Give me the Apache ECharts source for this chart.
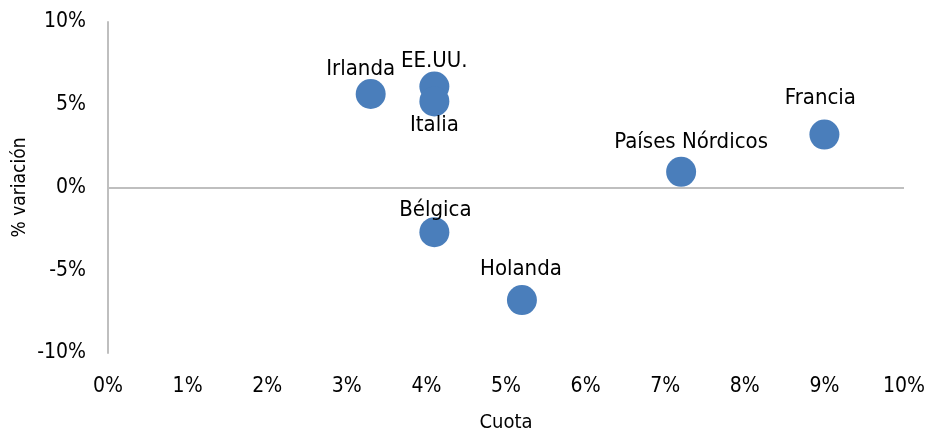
<!DOCTYPE html>
<html>
<head>
    <meta charset="utf8">
    <script src="https://cdn.jsdelivr.net/npm/echarts@6/dist/echarts.min.js"></script>
    <style>
        body { margin: 0; }
        #main { width: 925px; height: 432px; }
    </style>
</head>
<body>
    <div id="main"></div>
    <script type="text/javascript">
        // data (percent)
        var paises = ['Irlanda', 'EE.UU.', 'Italia', 'Francia', 'Países Nórdicos', 'Bélgica', 'Holanda'];
        var cuota = [3.3, 4.1, 4.1, 9.0, 7.2, 4.1, 5.2];
        var variacion = [5.65, 6.1, 5.2, 3.2, 0.95, -2.7, -6.8];

        // label placement tweaks (like hand-moved labels in the original)
        var etiquetas = {
            'Irlanda': { position: 'top', offset: [-10, 1] },
            'EE.UU.': { position: 'top', offset: [0, 1] },
            'Italia': { position: 'bottom', offset: [0, -2] },
            'Francia': { position: 'top', offset: [-4, -10] },
            'Países Nórdicos': { position: 'top', offset: [10, -3] },
            'Bélgica': { position: 'top', offset: [1, 4] },
            'Holanda': { position: 'top', offset: [-1, -5] }
        };

        var fuente = '"Liberation Sans Narrow", "DejaVu Sans Condensed", sans-serif';

        var puntos = [];
        for (var i = 0; i < paises.length; i++) {
            puntos.push({
                name: paises[i],
                value: [cuota[i], variacion[i]],
                label: etiquetas[paises[i]]
            });
        }

        var myChart = echarts.init(document.getElementById('main'));
        var option = {
            animation: false,
            grid: { left: 108, right: 21, top: 22, bottom: 79, outerBoundsMode: 'none', containLabel: false },
            xAxis: {
                type: 'value',
                min: 0, max: 10, interval: 1,
                name: 'Cuota',
                nameLocation: 'middle',
                nameGap: 60,
                nameMoveOverlap: false,
                nameTextStyle: { fontFamily: fuente, fontSize: 20, color: '#000' },
                axisLine: { show: false },
                axisTick: { show: false },
                splitLine: { show: false },
                axisLabel: {
                    fontFamily: fuente, fontSize: 21, color: '#000', margin: 23,
                    formatter: '{value}%'
                }
            },
            yAxis: {
                type: 'value',
                min: -10, max: 10, interval: 5,
                name: '% variación',
                nameLocation: 'middle',
                nameGap: 78,
                nameMoveOverlap: false,
                nameTextStyle: { fontFamily: fuente, fontSize: 19, color: '#000' },
                axisLine: { show: true, onZero: false, lineStyle: { color: '#bfbfbf', width: 2 } },
                axisTick: { show: false },
                splitLine: { show: false },
                axisLabel: {
                    fontFamily: fuente, fontSize: 21, color: '#000', margin: 22,
                    formatter: '{value}%'
                }
            },
            series: [{
                type: 'scatter',
                symbolSize: 30,
                itemStyle: { color: '#4a7ebb', opacity: 1 },
                label: {
                    show: true,
                    formatter: '{b}',
                    fontFamily: fuente, fontSize: 22, color: '#000',
                    distance: 0
                },
                data: puntos,
                markLine: {
                    silent: true,
                    symbol: 'none',
                    label: { show: false },
                    lineStyle: { color: '#bfbfbf', width: 2, type: 'solid' },
                    data: [{ yAxis: 0 }]
                }
            }]
        };
        myChart.setOption(option);
    </script>
</body>
</html>
